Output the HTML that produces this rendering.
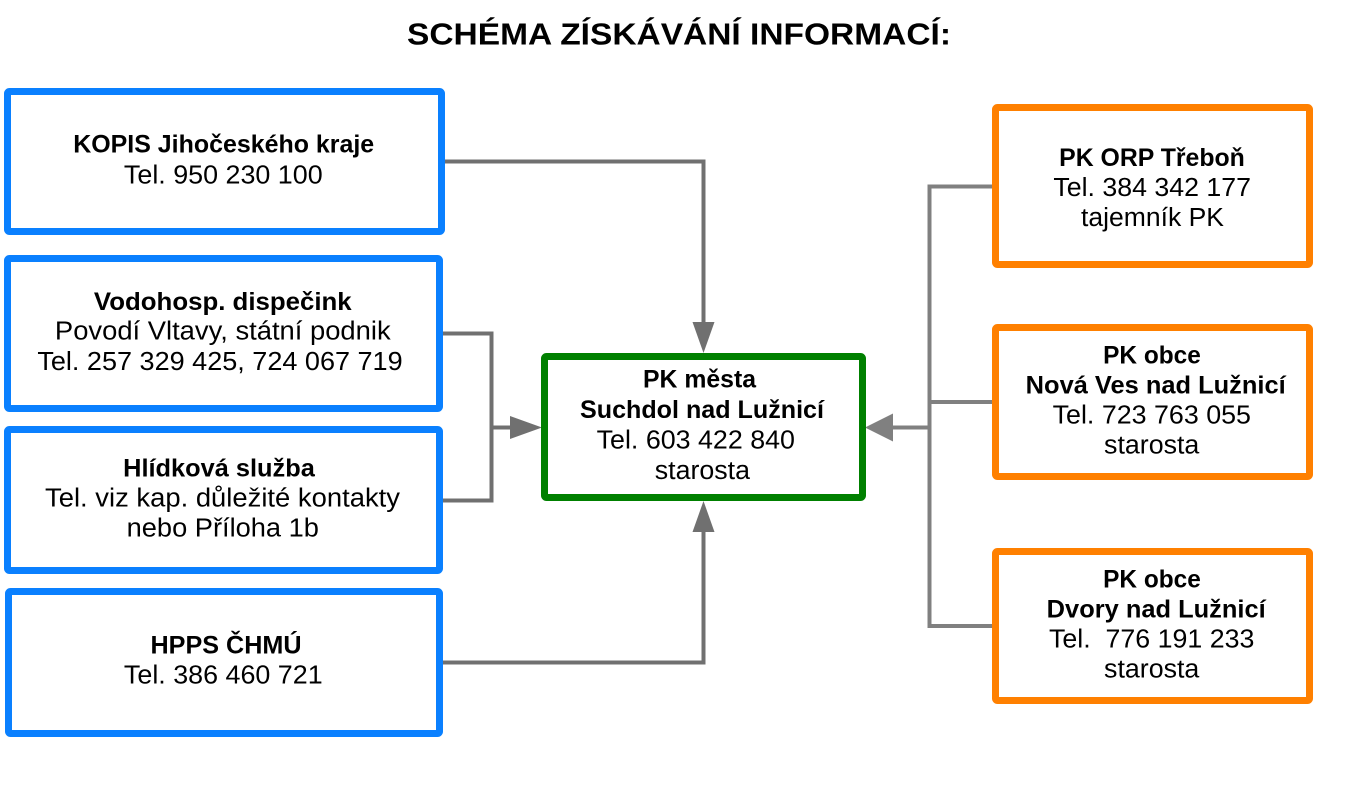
<!DOCTYPE html>
<html>
<head>
<meta charset="utf-8">
<style>
  html, body { margin:0; padding:0; background:#fff; }
  body { width:1360px; height:787px; overflow:hidden; }
  svg { display:block; }
  text { font-family: "Liberation Sans", "DejaVu Sans", sans-serif; fill:#000; }
  .b { font-weight:bold; font-size:25px; }
  .r { font-size:25.5px; }
  .t { font-weight:bold; font-size:31px; }
</style>
</head>
<body>
<svg width="1360" height="787" viewBox="0 0 1360 787" xmlns="http://www.w3.org/2000/svg">
  <rect x="0" y="0" width="1360" height="787" fill="#fff"/>

  <!-- Title -->
  <text class="t" x="679" y="44.5" text-anchor="middle" textLength="544" lengthAdjust="spacingAndGlyphs">SCHÉMA ZÍSKÁVÁNÍ INFORMACÍ:</text>

  <!-- Connectors left -->
  <g fill="none" stroke="#707070" stroke-width="4" stroke-linejoin="miter">
    <path d="M445,161.5 H703.5 V324"/>
    <path d="M443,333.5 H491.5 V500.5 H443"/>
    <path d="M491.5,427.5 H512"/>
    <path d="M443,662.5 H703.5 V530"/>
  </g>
  <g fill="#707070">
    <polygon points="703.5,353 692.5,322 714.5,322"/>
    <polygon points="703.5,501 692.5,532 714.5,532"/>
    <polygon points="542,427.5 510,416 510,439"/>
  </g>

  <!-- Connectors right -->
  <g fill="none" stroke="#808080" stroke-width="4" stroke-linejoin="miter">
    <path d="M993,186.5 H929.5 V626 H993"/>
    <path d="M993,402 H929.5"/>
    <path d="M929.5,427.5 H891"/>
  </g>
  <polygon fill="#808080" points="865,427.5 893,413.5 893,441.5"/>

  <!-- Blue boxes -->
  <g fill="#fff" stroke="#0a80ff" stroke-width="7">
    <rect x="7.5" y="91.5" width="434" height="140" rx="2"/>
    <rect x="7.5" y="258.5" width="432" height="150" rx="2"/>
    <rect x="7.5" y="429.5" width="432" height="141" rx="2"/>
    <rect x="8.5" y="591.5" width="431" height="142" rx="2"/>
  </g>

  <!-- Green box -->
  <rect x="544.5" y="356.5" width="318" height="141" rx="2" fill="#fff" stroke="#008000" stroke-width="7"/>

  <!-- Orange boxes -->
  <g fill="#fff" stroke="#ff8000" stroke-width="7">
    <rect x="995.5" y="107.5" width="314" height="157" rx="2"/>
    <rect x="995.5" y="327.5" width="314" height="149" rx="2"/>
    <rect x="995.5" y="551.5" width="314" height="149" rx="2"/>
  </g>

  <!-- Box 1 -->
  <text class="b" x="223.7" y="152.3" text-anchor="middle" textLength="301" lengthAdjust="spacingAndGlyphs">KOPIS Jihočeského kraje</text>
  <text class="r" x="223.3" y="183.3" text-anchor="middle" textLength="198.7" lengthAdjust="spacingAndGlyphs">Tel. 950 230 100</text>

  <!-- Box 2 -->
  <text class="b" x="222.8" y="310" text-anchor="middle" textLength="257.7" lengthAdjust="spacingAndGlyphs">Vodohosp. dispečink</text>
  <text class="r" x="222.8" y="339.5" text-anchor="middle" textLength="335.7" lengthAdjust="spacingAndGlyphs">Povodí Vltavy, státní podnik</text>
  <text class="r" x="220" y="370" text-anchor="middle" textLength="365.3" lengthAdjust="spacingAndGlyphs">Tel. 257 329 425, 724 067 719</text>

  <!-- Box 3 -->
  <text class="b" x="219" y="476.7" text-anchor="middle" textLength="191.7" lengthAdjust="spacingAndGlyphs">Hlídková služba</text>
  <text class="r" x="222.5" y="506.7" text-anchor="middle" textLength="355" lengthAdjust="spacingAndGlyphs">Tel. viz kap. důležité kontakty</text>
  <text class="r" x="222.8" y="536.7" text-anchor="middle" textLength="192.3" lengthAdjust="spacingAndGlyphs">nebo Příloha 1b</text>

  <!-- Box 4 -->
  <text class="b" x="226" y="653.3" text-anchor="middle" textLength="151" lengthAdjust="spacingAndGlyphs">HPPS ČHMÚ</text>
  <text class="r" x="223.3" y="683.3" text-anchor="middle" textLength="198.7" lengthAdjust="spacingAndGlyphs">Tel. 386 460 721</text>

  <!-- Green box text -->
  <text class="b" x="699.5" y="387.5" text-anchor="middle" textLength="113" lengthAdjust="spacingAndGlyphs">PK města</text>
  <text class="b" x="702" y="418" text-anchor="middle" textLength="244" lengthAdjust="spacingAndGlyphs">Suchdol nad Lužnicí</text>
  <text class="r" x="695.8" y="448.5" text-anchor="middle" textLength="198.3" lengthAdjust="spacingAndGlyphs">Tel. 603 422 840</text>
  <text class="r" x="702.4" y="479" text-anchor="middle" textLength="95.2" lengthAdjust="spacingAndGlyphs">starosta</text>

  <!-- Orange A -->
  <text class="b" x="1152" y="166" text-anchor="middle" textLength="185.7" lengthAdjust="spacingAndGlyphs">PK ORP Třeboň</text>
  <text class="r" x="1152.2" y="196" text-anchor="middle" textLength="197.7" lengthAdjust="spacingAndGlyphs">Tel. 384 342 177</text>
  <text class="r" x="1152.5" y="226" text-anchor="middle" textLength="143" lengthAdjust="spacingAndGlyphs">tajemník PK</text>

  <!-- Orange B -->
  <text class="b" x="1152" y="363.3" text-anchor="middle" textLength="97.7" lengthAdjust="spacingAndGlyphs">PK obce</text>
  <text class="b" x="1155.7" y="393.3" text-anchor="middle" textLength="260" lengthAdjust="spacingAndGlyphs">Nová Ves nad Lužnicí</text>
  <text class="r" x="1151.8" y="423.3" text-anchor="middle" textLength="198.3" lengthAdjust="spacingAndGlyphs">Tel. 723 763 055</text>
  <text class="r" x="1151.7" y="453.3" text-anchor="middle" textLength="95.3" lengthAdjust="spacingAndGlyphs">starosta</text>

  <!-- Orange C -->
  <text class="b" x="1152" y="587.3" text-anchor="middle" textLength="97.7" lengthAdjust="spacingAndGlyphs">PK obce</text>
  <text class="b" x="1156.2" y="617.3" text-anchor="middle" textLength="219" lengthAdjust="spacingAndGlyphs">Dvory nad Lužnicí</text>
  <text class="r" x="1151.7" y="647.3" text-anchor="middle" textLength="205.3" lengthAdjust="spacingAndGlyphs" xml:space="preserve">Tel.  776 191 233</text>
  <text class="r" x="1151.7" y="677.3" text-anchor="middle" textLength="95.3" lengthAdjust="spacingAndGlyphs">starosta</text>
</svg>
</body>
</html>
